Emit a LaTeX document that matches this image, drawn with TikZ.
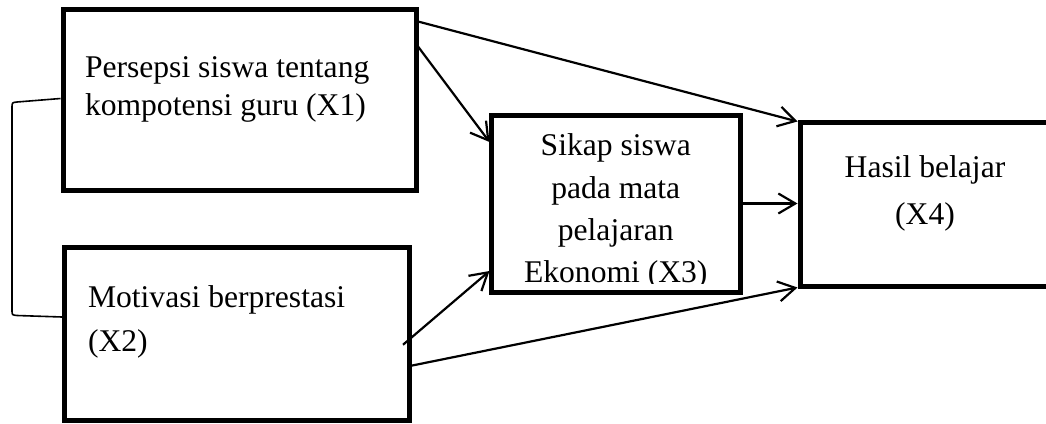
\documentclass[tikz,border=0pt]{standalone}
\usepackage{fontspec}
\setmainfont{Liberation Serif}
\usetikzlibrary{arrows.meta}
\begin{document}
\begin{tikzpicture}[x=1pt,y=-1pt,
  box/.style={draw=black,line width=5pt,fill=none,inner sep=0pt,outer sep=0pt},
  lbl/.style={inner sep=0pt,outer sep=0pt,font=\fontsize{31.6pt}{38pt}\selectfont},
  arr/.style={line width=2.2pt,-{Straight Barb[length=17pt,width=20pt,line width=2.2pt]}},
  brk/.style={line width=1.6pt}]
\clip (0,0) rectangle (1046,423);
\fill[white] (0,0) rectangle (1046,423);
% boxes
\node[box,minimum width=353pt,minimum height=180.5pt] (x1) at (239.5,99.75) {};
\node[box,minimum width=344.5pt,minimum height=172.5pt] (x2) at (236.75,333.75) {};
\node[box,minimum width=248.5pt,minimum height=177pt] (x3) at (615.75,203.5) {};
\node[box,minimum width=260pt,minimum height=164pt] (x4) at (930.5,204.5) {};
% texts
\node[lbl,anchor=base west] (t1a) at (85,77) {Persepsi siswa tentang};
\node[lbl,anchor=base west] (t1b) at (85,115) {kompotensi guru (X1)};
\node[lbl,anchor=base west] (t2a) at (88,307) {Motivasi berprestasi};
\node[lbl,anchor=base west] (t2b) at (88,351) {(X2)};
\node[lbl,anchor=base] (t3a) at (615.75,155) {Sikap siswa};
\node[lbl,anchor=base] (t3b) at (615.75,198) {pada mata};
\node[lbl,anchor=base] (t3c) at (615.75,240) {pelajaran};
\begin{scope}
\clip (480,200) rectangle (750,283.5);
\node[lbl,anchor=base] (t3d) at (615.75,282) {Ekonomi (X3)};
\end{scope}
\node[lbl,anchor=base] (t4a) at (925,177.5) {Hasil belajar};
\node[lbl,anchor=base] (t4b) at (925,224) {(X4)};
% arrows
\draw[arr] ([xshift=2pt,yshift=-12pt]x1.north east) -- ([xshift=-3pt,yshift=1pt]x4.north west);
\draw[arr] ([xshift=2pt,yshift=-37pt]x1.north east) -- ([xshift=-2pt,yshift=-27pt]x3.north west);
\draw[arr] ([xshift=2.5pt]x3.east) -- ([xshift=-3pt]x3.east -| x4.west);
\draw[arr] ([xshift=-6pt,yshift=-11pt]x2.east) -- ([xshift=-2pt,yshift=21pt]x3.south west);
\draw[arr] ([xshift=2pt,yshift=-32pt]x2.east) -- ([xshift=-3pt,yshift=-1pt]x4.south west);
% bracket
\coordinate (b1) at ([xshift=-2.5pt,yshift=1.25pt]x1.west);
\coordinate (b2) at ([xshift=-2.5pt,yshift=16.75pt]x2.west);
\draw[brk] (b1) -- (17,102) .. controls (12,102.5) .. (12,108) -- (12,310) .. controls (12,315) .. (17,315.5) -- (b2);
\end{tikzpicture}
\end{document}
